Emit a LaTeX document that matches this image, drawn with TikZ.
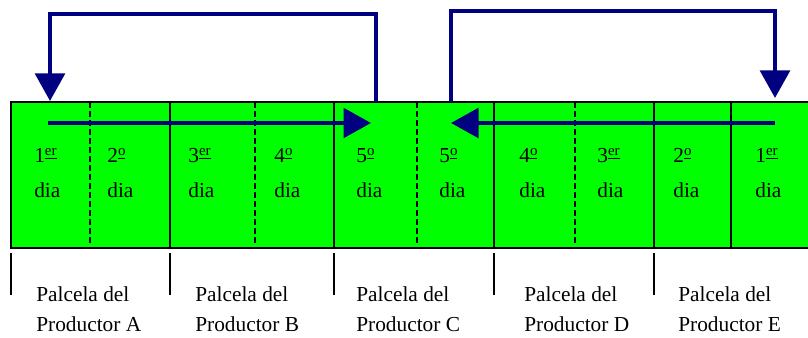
\documentclass[tikz,border=0pt]{standalone}
\usepackage{fontspec}
\setmainfont{Liberation Serif}
\usetikzlibrary{arrows.meta}
\definecolor{flowblue}{RGB}{0,0,128}
\definecolor{fieldgreen}{RGB}{0,255,0}
\newcommand{\ordEr}{\textsuperscript{\underline{er}}}
\newcommand{\ordO}{\textsuperscript{\underline{o}}}
\begin{document}
\begin{tikzpicture}[x=0.6pt, y=-0.6pt, font=\fontsize{12.8}{15}\selectfont,
	flow/.style={flowblue, line width=2.4pt, -{Triangle[length=16.5pt, width=17.7pt]}},
	daytext/.style={anchor=base west, inner sep=0pt},
	plotlabel/.style={anchor=base west, inner sep=0pt},
	cutline/.style={line width=0.7pt},
	halfline/.style={line width=0.7pt, dash pattern=on 3.6pt off 1.8pt}]
	\clip (0, 0) rectangle (808, 338);

	\draw[fill=fieldgreen, line width=1.2pt] (11, 102) rectangle (812, 248);
	\foreach \x in {170, 334, 494, 654, 731}
		\draw[cutline] (\x, 102) -- (\x, 248);
	\foreach \x in {90, 255, 417, 575}
		\draw[halfline] (\x, 102) -- (\x, 244);
	\foreach \x in {11, 170, 334, 494, 654}
		\draw[cutline] (\x, 253) -- (\x, 295);

	\foreach \x/\n [count=\i] in {34/1\ordEr, 107/2\ordO, 188/3\ordEr, 274/4\ordO, 356/5\ordO,
			439/5\ordO, 519/4\ordO, 597/3\ordEr, 673/2\ordO, 755/1\ordEr} {
		\node[daytext] (num\i) at (\x, 163) {\n};
		\node[daytext] (dia\i) at (\x, 198) {dia};
	}

	\foreach \x/\p in {36/A, 195/B, 356/C, 524/D, 678/E} {
		\node[plotlabel] (plot\p) at (\x, 301.5) {Palcela del};
		\node[plotlabel] (prod\p) at (\x, 331.5) {Productor \p};
	}

	\coordinate (startA) at (48, 123);
	\coordinate (endA) at (371, 123);
	\coordinate (backA) at (376, 102);
	\coordinate (topA) at (50, 14);
	\coordinate (firstA) at (50, 101);
	\coordinate (startB) at (775, 123);
	\coordinate (endB) at (451, 123);
	\coordinate (backB) at (451, 102);
	\coordinate (topB) at (775, 11);
	\coordinate (firstB) at (775, 98);

	\draw[flow] (startA) -- (endA);
	\draw[flow] (backA) |- (topA) -- (firstA);
	\draw[flow] (startB) -- (endB);
	\draw[flow] (backB) |- (topB) -- (firstB);
\end{tikzpicture}
\end{document}
